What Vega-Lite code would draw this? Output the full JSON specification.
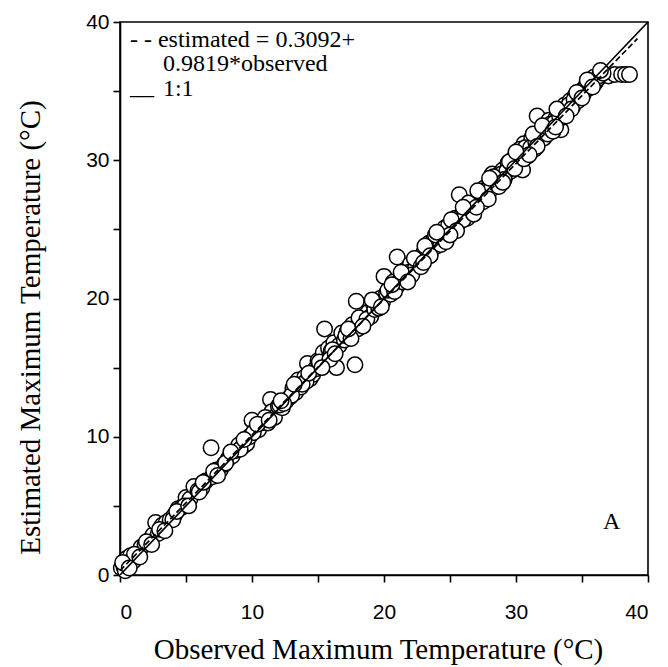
{
  "$schema": "https://vega.github.io/schema/vega-lite/v6.json",
  "autosize": {"type": "none"},
  "width": 528,
  "height": 553,
  "padding": {"left": 120, "top": 22, "right": 20, "bottom": 92},
  "background": "white",
  "config": {
    "view": {"stroke": "black", "strokeWidth": 1.6},
    "axis": {"grid": false, "domainColor": "black", "domainWidth": 1.6, "tickColor": "black", "tickWidth": 1.6, "tickSize": 7,
      "labelFont": "Liberation Sans", "labelFontSize": 21, "labelColor": "black",
      "titleFont": "Liberation Serif", "titleFontSize": 29, "titleFontWeight": "normal", "titleColor": "black"}
  },
  "datasets": {
    "pts": [
      {"o":0.1,"e":0.5},{"o":0.3,"e":0.6},{"o":0.5,"e":1.2},{"o":0.8,"e":1.4},{"o":1.0,"e":1.0},{"o":1.3,"e":1.6},{"o":1.6,"e":2.0},{"o":1.9,"e":2.2},{"o":2.2,"e":2.5},{"o":2.5,"e":2.9},{"o":2.7,"e":3.8},{"o":2.9,"e":3.0},{"o":3.2,"e":3.6},{"o":3.5,"e":3.8},{"o":3.8,"e":4.0},{"o":4.1,"e":4.3},{"o":4.4,"e":4.8},{"o":4.7,"e":4.9},{"o":5.0,"e":5.6},{"o":5.3,"e":5.5},{"o":5.6,"e":6.4},{"o":5.9,"e":6.1},{"o":6.2,"e":6.3},{"o":6.5,"e":6.8},{"o":6.9,"e":9.2},{"o":7.0,"e":7.1},{"o":7.3,"e":7.6},{"o":7.6,"e":7.6},{"o":7.9,"e":8.0},{"o":8.2,"e":8.4},{"o":8.5,"e":8.6},{"o":8.8,"e":9.0},{"o":9.0,"e":9.4},{"o":9.3,"e":9.3},{"o":9.6,"e":9.5},{"o":9.8,"e":10.0},{"o":10.0,"e":11.2},{"o":10.2,"e":10.4},{"o":10.5,"e":10.5},{"o":10.7,"e":11.0},{"o":10.9,"e":11.1},{"o":11.2,"e":11.0},{"o":11.4,"e":12.7},{"o":11.5,"e":11.8},{"o":11.7,"e":11.4},{"o":12.0,"e":12.2},{"o":12.3,"e":12.1},{"o":12.6,"e":12.6},{"o":12.9,"e":12.9},{"o":13.1,"e":13.5},{"o":13.3,"e":13.2},{"o":13.5,"e":14.1},{"o":13.7,"e":13.6},{"o":14.0,"e":14.3},{"o":14.2,"e":15.3},{"o":14.4,"e":14.2},{"o":14.6,"e":14.5},{"o":14.8,"e":14.9},{"o":15.0,"e":15.5},{"o":15.2,"e":15.2},{"o":15.4,"e":16.1},{"o":15.5,"e":17.8},{"o":15.6,"e":15.5},{"o":15.8,"e":16.4},{"o":16.0,"e":16.2},{"o":16.2,"e":16.8},{"o":16.4,"e":15.0},{"o":16.6,"e":16.6},{"o":16.8,"e":17.5},{"o":17.0,"e":17.0},{"o":17.2,"e":17.6},{"o":17.4,"e":17.3},{"o":17.6,"e":18.1},{"o":17.8,"e":15.2},{"o":17.9,"e":19.8},{"o":18.0,"e":17.8},{"o":18.2,"e":18.3},{"o":18.5,"e":18.7},{"o":18.8,"e":19.0},{"o":19.0,"e":18.7},{"o":19.2,"e":19.6},{"o":19.5,"e":19.6},{"o":19.7,"e":20.0},{"o":19.9,"e":19.8},{"o":20.0,"e":21.6},{"o":20.2,"e":20.4},{"o":20.5,"e":20.3},{"o":20.7,"e":21.2},{"o":21.0,"e":23.0},{"o":21.0,"e":20.9},{"o":21.2,"e":21.3},{"o":21.5,"e":21.8},{"o":21.7,"e":21.5},{"o":22.0,"e":22.5},{"o":22.2,"e":22.0},{"o":22.5,"e":22.7},{"o":22.7,"e":22.4},{"o":23.0,"e":23.3},{"o":23.2,"e":23.0},{"o":23.4,"e":24.0},{"o":23.6,"e":23.5},{"o":23.8,"e":24.3},{"o":24.0,"e":23.8},{"o":24.2,"e":24.6},{"o":24.4,"e":24.2},{"o":24.6,"e":25.1},{"o":24.8,"e":24.6},{"o":25.0,"e":25.2},{"o":25.2,"e":25.0},{"o":25.4,"e":25.8},{"o":25.6,"e":25.4},{"o":25.7,"e":27.5},{"o":25.9,"e":26.0},{"o":26.1,"e":26.3},{"o":26.3,"e":25.8},{"o":26.5,"e":26.8},{"o":26.7,"e":26.4},{"o":27.0,"e":27.0},{"o":27.2,"e":27.6},{"o":27.4,"e":27.2},{"o":27.6,"e":28.0},{"o":27.8,"e":27.5},{"o":28.0,"e":28.3},{"o":28.2,"e":29.0},{"o":28.4,"e":28.1},{"o":28.6,"e":28.9},{"o":28.8,"e":28.5},{"o":29.0,"e":29.3},{"o":29.2,"e":28.9},{"o":29.4,"e":29.8},{"o":29.6,"e":29.2},{"o":29.8,"e":30.1},{"o":30.0,"e":29.6},{"o":30.2,"e":30.5},{"o":30.4,"e":30.2},{"o":30.5,"e":29.3},{"o":30.6,"e":31.2},{"o":30.8,"e":30.5},{"o":31.0,"e":31.0},{"o":31.2,"e":31.6},{"o":31.4,"e":30.8},{"o":31.6,"e":33.2},{"o":31.7,"e":31.5},{"o":31.9,"e":32.0},{"o":32.1,"e":31.6},{"o":32.3,"e":32.4},{"o":32.5,"e":32.9},{"o":32.7,"e":32.3},{"o":33.0,"e":33.0},{"o":33.2,"e":33.5},{"o":33.4,"e":32.2},{"o":33.5,"e":33.1},{"o":33.7,"e":34.0},{"o":33.9,"e":33.6},{"o":34.1,"e":34.3},{"o":34.3,"e":33.9},{"o":34.5,"e":34.7},{"o":34.7,"e":34.3},{"o":34.9,"e":35.0},{"o":35.1,"e":34.8},{"o":35.3,"e":35.4},{"o":35.5,"e":35.2},{"o":35.7,"e":35.6},{"o":36.0,"e":35.6},{"o":36.2,"e":35.9},{"o":36.5,"e":36.2},{"o":36.7,"e":36.2},{"o":37.0,"e":36.1},{"o":37.5,"e":36.2},{"o":38.0,"e":36.2},{"o":38.3,"e":36.2},{"o":38.6,"e":36.2},
      {"o":0.4,"e":0.3},{"o":1.1,"e":1.5},{"o":2.0,"e":2.4},{"o":3.0,"e":3.3},{"o":4.0,"e":4.0},{"o":4.9,"e":5.0},{"o":6.0,"e":6.0},{"o":7.1,"e":7.5},{"o":8.0,"e":8.1},{"o":9.1,"e":9.1},{"o":10.1,"e":10.3},{"o":11.0,"e":11.4},{"o":12.1,"e":12.3},{"o":13.0,"e":13.0},{"o":14.1,"e":14.0},{"o":15.1,"e":15.4},{"o":16.1,"e":16.3},{"o":17.1,"e":17.3},{"o":18.1,"e":18.6},{"o":18.7,"e":18.5},{"o":19.3,"e":19.2},{"o":20.3,"e":20.6},{"o":20.8,"e":20.5},{"o":21.4,"e":21.2},{"o":21.9,"e":21.9},{"o":22.4,"e":22.3},{"o":22.9,"e":23.1},{"o":23.3,"e":23.6},{"o":23.7,"e":23.9},{"o":24.1,"e":24.1},{"o":24.5,"e":24.5},{"o":24.9,"e":25.3},{"o":25.3,"e":25.5},{"o":25.8,"e":25.6},{"o":26.2,"e":26.5},{"o":26.6,"e":26.2},{"o":26.9,"e":26.9},{"o":27.3,"e":27.3},{"o":27.7,"e":27.8},{"o":28.1,"e":27.9},{"o":28.5,"e":28.6},{"o":28.9,"e":29.0},{"o":29.3,"e":29.2},{"o":29.7,"e":29.7},{"o":30.1,"e":30.0},{"o":30.3,"e":30.8},{"o":30.7,"e":30.9},{"o":31.1,"e":30.9},{"o":31.5,"e":31.3},{"o":31.8,"e":31.9},{"o":32.2,"e":32.2},{"o":32.6,"e":32.6},{"o":32.9,"e":32.7},{"o":33.3,"e":33.2},{"o":33.6,"e":33.5},{"o":34.0,"e":34.0},{"o":34.4,"e":34.4},{"o":34.8,"e":34.6},{"o":35.2,"e":35.1},{"o":35.6,"e":35.5},{"o":35.9,"e":36.0},{"o":36.3,"e":36.1},{"o":36.6,"e":36.3},{"o":24.3,"e":23.9},{"o":26.0,"e":25.7},{"o":27.5,"e":27.0},{"o":29.1,"e":28.6},{"o":30.9,"e":30.3},{"o":32.4,"e":31.9},{"o":34.2,"e":33.7},{"o":22.1,"e":21.7},{"o":19.6,"e":19.3},{"o":17.5,"e":17.1},{"o":15.9,"e":15.6},{"o":13.8,"e":13.8},{"o":12.4,"e":12.4},
      {"o":0.2,"e":0.9},{"o":0.7,"e":0.5},{"o":1.5,"e":1.3},{"o":2.4,"e":2.2},{"o":3.4,"e":3.2},{"o":4.3,"e":4.6},{"o":5.2,"e":5.0},{"o":6.3,"e":6.7},{"o":7.4,"e":7.2},{"o":8.4,"e":8.9},{"o":9.4,"e":9.8},{"o":10.4,"e":10.9},{"o":11.3,"e":11.2},{"o":12.2,"e":12.6},{"o":13.2,"e":13.8},{"o":14.3,"e":14.6},{"o":15.3,"e":15.0},{"o":16.3,"e":16.0},{"o":17.3,"e":17.8},{"o":18.4,"e":18.0},{"o":19.1,"e":19.9},{"o":19.8,"e":19.4},{"o":20.6,"e":21.0},{"o":21.3,"e":21.9},{"o":21.8,"e":21.2},{"o":22.3,"e":22.9},{"o":22.8,"e":22.3},{"o":23.1,"e":23.8},{"o":23.5,"e":23.1},{"o":23.9,"e":24.6},{"o":24.7,"e":24.1},{"o":25.1,"e":25.7},{"o":25.5,"e":24.9},{"o":26.4,"e":26.9},{"o":26.8,"e":26.1},{"o":27.1,"e":27.8},{"o":27.9,"e":27.2},{"o":28.3,"e":28.8},{"o":28.7,"e":28.1},{"o":29.5,"e":29.9},{"o":29.9,"e":29.4},{"o":30.6,"e":30.1},{"o":31.3,"e":31.9},{"o":31.6,"e":31.0},{"o":32.0,"e":32.5},{"o":32.8,"e":32.1},{"o":33.1,"e":33.7},{"o":33.8,"e":33.2},{"o":34.6,"e":34.9},{"o":35.0,"e":34.5},{"o":35.4,"e":35.8},{"o":35.8,"e":35.3},{"o":36.4,"e":36.5},{"o":23.0,"e":22.6},{"o":25.0,"e":24.6},{"o":27.0,"e":26.6},{"o":29.0,"e":28.4},{"o":31.0,"e":30.4},{"o":33.0,"e":32.4},{"o":26.0,"e":26.6},{"o":28.0,"e":28.7},{"o":30.0,"e":30.6},{"o":24.0,"e":24.8}
    ],
    "oneone": [{"o":0,"e":0},{"o":40,"e":40}],
    "reg": [{"o":0,"e":0.3092},{"o":39.2,"e":38.80}],
    "labels": [
      {"x":0.75,"y":38.7,"t":"- - estimated = 0.3092+"},
      {"x":3.25,"y":36.95,"t":"0.9819*observed"},
      {"x":0.75,"y":35.3,"t":"__"},
      {"x":3.25,"y":35.15,"t":"1:1"},
      {"x":36.6,"y":3.8,"t":"A"}
    ]
  },
  "encoding": {
    "x": {"type": "quantitative", "scale": {"domain": [0, 40], "nice": false, "zero": false},
      "axis": {"title": "Observed Maximum Temperature (°C)", "values": [0,5,10,15,20,25,30,35,40],
        "labelExpr": "datum.value % 10 === 0 ? datum.label : ''", "labelPadding": 19, "titleY": 74, "titleX": 258, "titleBaseline": "middle"}},
    "y": {"type": "quantitative", "scale": {"domain": [0, 40], "nice": false, "zero": false},
      "axis": {"title": "Estimated Maximum Temperature (°C)", "values": [0,5,10,15,20,25,30,35,40],
        "labelExpr": "datum.value % 10 === 0 ? datum.label : ''", "labelPadding": 4, "titleX": -90, "titleY": 305, "titleBaseline": "middle"}}
  },
  "layer": [
    {"data": {"name": "pts"}, "mark": {"type": "point", "shape": "circle", "filled": true, "fill": "white", "stroke": "black", "strokeWidth": 1.5, "size": 240, "opacity": 1},
      "encoding": {"x": {"field": "o"}, "y": {"field": "e"}}},
    {"data": {"name": "oneone"}, "mark": {"type": "line", "color": "black", "strokeWidth": 1.7},
      "encoding": {"x": {"field": "o"}, "y": {"field": "e"}}},
    {"data": {"name": "reg"}, "mark": {"type": "line", "color": "black", "strokeWidth": 1.7, "strokeDash": [6, 3]},
      "encoding": {"x": {"field": "o"}, "y": {"field": "e"}}},
    {"data": {"name": "labels"}, "mark": {"type": "text", "align": "left", "baseline": "middle", "font": "Liberation Serif", "fontSize": 24, "color": "black"},
      "encoding": {"x": {"field": "x"}, "y": {"field": "y"}, "text": {"field": "t"}}}
  ]
}
